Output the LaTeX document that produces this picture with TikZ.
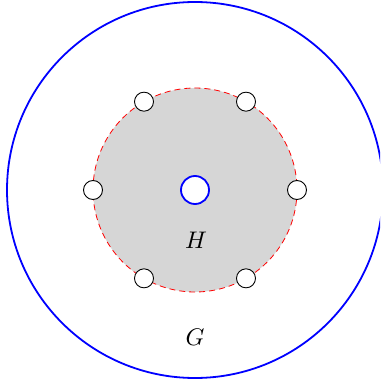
\documentclass[tikz,border=0pt]{standalone}
\begin{document}
\begin{tikzpicture}[x=1pt,y=-1pt,
  vert/.style={circle,draw=black,fill=white,line width=0.9pt,minimum size=19pt,inner sep=0pt}]
\newcommand{\biglbl}[1]{\scalebox{2.4}{$#1$}}
\useasboundingbox (0,0) rectangle (380,385);
\clip (0,0) rectangle (380,385);
\coordinate (c) at (195,190);
\draw[blue,line width=1.8pt] (c) circle[radius=188];
\fill[black!16] (c) circle[radius=102];
\draw[red,line width=0.8pt,dash pattern=on 6pt off 4pt] (c) circle[radius=102];
\node[circle,draw=blue,fill=white,line width=1.8pt,minimum size=28pt,inner sep=0pt] (ctr) at (c) {};
\foreach \a/\n in {0/v1,60/v2,120/v3,180/v4,240/v5,300/v6}
  \node[vert] (\n) at ([shift={(\a:102)}]c) {};
\node (H) at (196,240) {\biglbl{H}};
\node (G) at (195,337) {\biglbl{G}};
\end{tikzpicture}
\end{document}
